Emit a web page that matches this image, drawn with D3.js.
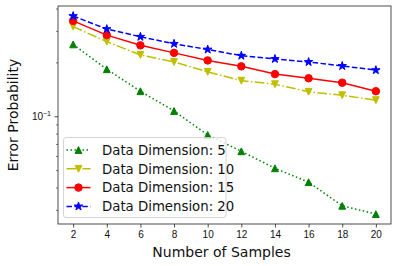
<!DOCTYPE html>
<html>
<head>
<meta charset="utf-8">
<script src="https://cdn.jsdelivr.net/npm/d3@7"></script>
<style>
body { margin: 0; background: #fff; }
svg { font-family: "DejaVu Sans", sans-serif; }
</style>
</head>
<body>
<div id="chart"></div>
<script>
const samples = [2, 4, 6, 8, 10, 12, 14, 16, 18, 20]
const dim5 = [0.252, 0.183, 0.138, 0.107, 0.0786, 0.0637, 0.0512, 0.0428, 0.0316, 0.0284]
const dim10 = [0.317, 0.261, 0.220, 0.201, 0.177, 0.158, 0.151, 0.137, 0.131, 0.123]
const dim15 = [0.341, 0.284, 0.249, 0.226, 0.205, 0.190, 0.172, 0.163, 0.154, 0.138]
const dim20 = [0.363, 0.307, 0.278, 0.254, 0.236, 0.218, 0.209, 0.201, 0.191, 0.181]
const seriesNames = ["Data Dimension: 5", "Data Dimension: 10", "Data Dimension: 15", "Data Dimension: 20"]
const xTicks = [2, 4, 6, 8, 10, 12, 14, 16, 18, 20]

function translate(x, y) { return `translate(${x}, ${y})` }

const svgWidth = 398, svgHeight = 266
const margin = {left: 58, top: 6, right: 7, bottom: 42}
const width = svgWidth - margin.left - margin.right
const height = svgHeight - margin.top - margin.bottom

const svg = d3.select("#chart").append("svg").attr("width", svgWidth).attr("height", svgHeight)
const g = svg.append("g").attr("transform", translate(margin.left, margin.top))

const xScale = d3.scaleLinear().domain([1.1, 20.9]).range([0, width])
const yScale = d3.scaleLog().domain([0.025, 0.413]).range([height, 0])

// markers
function triUp(s) { return `M0,${-s}L${s},${s}L${-s},${s}Z` }
function triDown(s) { return `M0,${s}L${s},${-s}L${-s},${-s}Z` }
const star = d3.symbol().type(d3.symbolStar).size(22)()
const circle = d3.symbol().type(d3.symbolCircle).size(44)()

const series = [
    {name: seriesNames[0], values: dim5, color: "#008000", dash: "1.5,2.5", marker: triUp(3.4)},
    {name: seriesNames[1], values: dim10, color: "#bfbf00", dash: "9.6,2.4,1.5,2.4", marker: triDown(3.4)},
    {name: seriesNames[2], values: dim15, color: "#ff0000", dash: null, marker: circle},
    {name: seriesNames[3], values: dim20, color: "#0000ff", dash: "5.5,2.4", marker: star}
]

// axes
const xAxis = d3.axisBottom(xScale).tickValues(xTicks).tickSize(3.5).tickPadding(3).tickFormat(d3.format("d"))
const xG = g.append("g").attr("transform", translate(0, height)).call(xAxis)
xG.select(".domain").remove()
xG.selectAll("text").attr("font-size", 10).attr("fill", "#111")
xG.selectAll("line").attr("stroke", "#222").attr("stroke-width", 0.8)

const minorVals = []
for (let dec of [0.01, 0.1]) for (let k = 2; k <= 9; k++) {
    let v = k * dec
    if (v >= 0.025 && v <= 0.413) minorVals.push(v)
}
const yMinor = d3.axisLeft(yScale).tickValues(minorVals).tickSize(2).tickFormat("")
const yMinorG = g.append("g").call(yMinor)
yMinorG.select(".domain").remove()
yMinorG.selectAll("line").attr("stroke", "#222").attr("stroke-width", 0.6)

const yMajor = d3.axisLeft(yScale).tickValues([0.1]).tickSize(3.5).tickFormat("")
const yMajorG = g.append("g").call(yMajor)
yMajorG.select(".domain").remove()
yMajorG.selectAll("line").attr("stroke", "#222").attr("stroke-width", 0.8)
const lab = yMajorG.append("text").attr("x", -7).attr("y", yScale(0.1) + 4)
    .attr("text-anchor", "end").attr("fill", "#111").attr("font-size", 10)
lab.append("tspan").text("10")
lab.append("tspan").attr("dy", -4).attr("font-size", 7).text("\u22121")

// lines
const line = d3.line().x((d, i) => xScale(samples[i])).y(d => yScale(d))
const plot = g.append("g")
series.forEach(function(s) {
    plot.append("path").datum(s.values).attr("d", line)
        .attr("fill", "none").attr("stroke", s.color).attr("stroke-width", 1.5)
        .attr("stroke-dasharray", s.dash)
    plot.selectAll(null).data(s.values).enter().append("path")
        .attr("d", s.marker)
        .attr("transform", (d, i) => translate(xScale(samples[i]), yScale(d)))
        .attr("fill", s.color).attr("stroke", s.color).attr("stroke-width", 1)
})

// frame
g.append("rect").attr("width", width).attr("height", height)
    .attr("fill", "none").attr("stroke", "#222").attr("stroke-width", 0.8)

// legend
const lg = g.append("g").attr("transform", translate(5.5, 131.5))
lg.append("rect").attr("width", 162.5).attr("height", 80).attr("rx", 2.5)
    .attr("fill", "#fff").attr("fill-opacity", 0.8).attr("stroke", "#ccc").attr("stroke-width", 0.8)
series.forEach(function(s, i) {
    const yy = 12.5 + i * 18.8
    lg.append("line").attr("x1", 3).attr("x2", 27).attr("y1", yy).attr("y2", yy)
        .attr("stroke", s.color).attr("stroke-width", 1.5).attr("stroke-dasharray", s.dash)
    lg.append("path").attr("d", s.marker).attr("transform", translate(15, yy))
        .attr("fill", s.color).attr("stroke", s.color).attr("stroke-width", 1)
    lg.append("text").attr("x", 38.5).attr("y", yy + 4.8).attr("font-size", 13.3).attr("fill", "#111").text(s.name)
})

// axis labels
svg.append("text").attr("x", margin.left + width / 2 - 3).attr("y", 256.5).attr("text-anchor", "middle")
    .attr("font-size", 14).attr("fill", "#111").text("Number of Samples")
svg.append("text").attr("transform", translate(18, margin.top + height / 2) + " rotate(-90)")
    .attr("text-anchor", "middle").attr("font-size", 14).attr("fill", "#111").text("Error Probability")
</script>
</body>
</html>
